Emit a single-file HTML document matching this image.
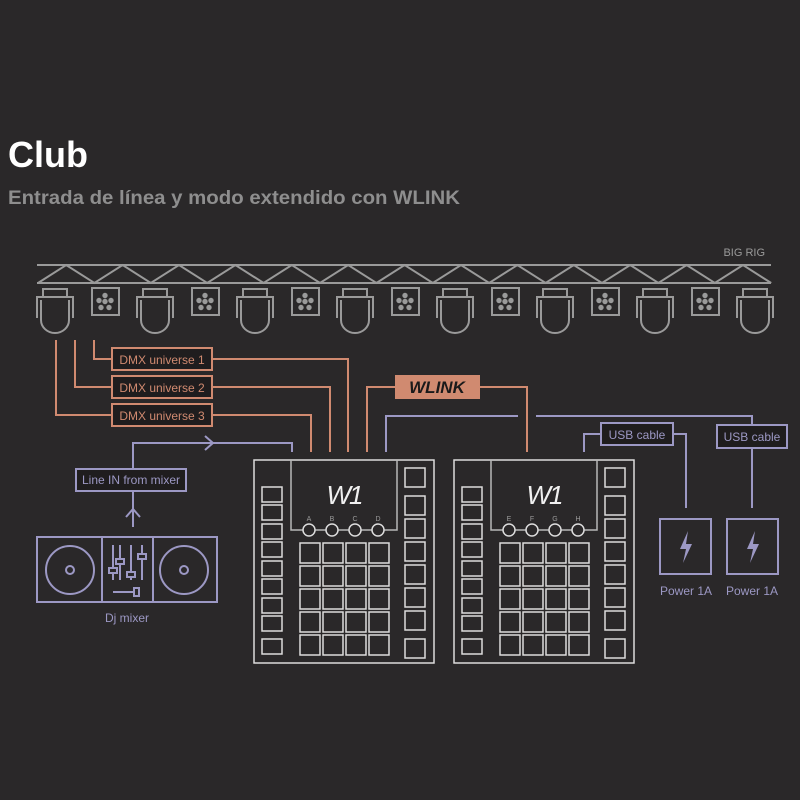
<!DOCTYPE html>
<html><head><meta charset="utf-8"><style>
html,body{margin:0;padding:0;background:#2a2829;width:800px;height:800px;overflow:hidden}
svg{display:block}
text{font-family:"Liberation Sans",sans-serif}
</style></head><body>
<svg id="s" width="800" height="800" viewBox="0 0 800 800" xmlns="http://www.w3.org/2000/svg">
<rect width="800" height="800" fill="#2a2829"/>
<text x="8" y="167" font-size="36" font-weight="bold" fill="#ffffff">Club</text>
<text x="8" y="204" font-size="19" font-weight="bold" fill="#8e8e8e" textLength="452" lengthAdjust="spacingAndGlyphs">Entrada de línea y modo extendido con WLINK</text>
<text x="765" y="256" font-size="11" fill="#9a9a9a" text-anchor="end">BIG RIG</text>
<g id="truss" stroke="#9a9a9a" stroke-width="2" fill="none"></g>
<g id="fix" stroke="#9a9a9a" stroke-width="2" fill="none"></g>
<!-- DMX orange -->
<g stroke="#d08a70" stroke-width="2" fill="none">
<polyline points="56,340 56,415 112,415"/>
<polyline points="75,340 75,387 112,387"/>
<polyline points="94,340 94,359 112,359"/>
<polyline points="212,359 348,359 348,452"/>
<polyline points="212,387 330,387 330,452"/>
<polyline points="212,415 311,415 311,452"/>
<polyline points="395,387 367,387 367,452"/>
<polyline points="480,387 527,387 527,452"/>
<rect x="112" y="348" width="100" height="22" fill="#1f1d1e"/>
<rect x="112" y="376" width="100" height="22" fill="#1f1d1e"/>
<rect x="112" y="404" width="100" height="22" fill="#1f1d1e"/>
</g>
<g font-size="12" fill="#d08a70" text-anchor="middle">
<text x="162" y="364">DMX universe 1</text>
<text x="162" y="392">DMX universe 2</text>
<text x="162" y="420">DMX universe 3</text>
</g>
<rect x="395" y="375" width="85" height="24" fill="#d08a70"/>
<text x="437" y="393" font-size="17" font-weight="bold" font-style="italic" fill="#1a1a1a" text-anchor="middle">WLINK</text>
<!-- blue -->
<g stroke="#9c98c4" stroke-width="2" fill="none">
<polyline points="133,470 133,443 292,443 292,452"/>
<polyline points="205,436 213,443 205,450"/>
<polyline points="126,517 133,509 140,517"/>
<line x1="133" y1="491" x2="133" y2="527"/>
<polyline points="386,452 386,416 518,416"/>
<polyline points="536,416 752,416 752,425"/>
<polyline points="584,452 584,434 601,434"/>
<polyline points="673,434 686,434 686,508"/>
<line x1="752" y1="448" x2="752" y2="508"/>
<rect x="601" y="423" width="72" height="22" fill="#1f1d1e"/>
<rect x="717" y="425" width="70" height="23" fill="#1f1d1e"/>
<rect x="76" y="469" width="110" height="22" fill="#1f1d1e"/>
<rect x="660" y="519" width="51" height="55"/>
<rect x="727" y="519" width="51" height="55"/>
<rect x="37" y="537" width="180" height="65"/>
<line x1="102" y1="537" x2="102" y2="602"/>
<line x1="153" y1="537" x2="153" y2="602"/>
<circle cx="70" cy="570" r="24"/><circle cx="70" cy="570" r="4"/>
<circle cx="184" cy="570" r="24"/><circle cx="184" cy="570" r="4"/>
<line x1="113" y1="545" x2="113" y2="580"/><line x1="120" y1="545" x2="120" y2="580"/>
<line x1="131" y1="545" x2="131" y2="580"/><line x1="142" y1="545" x2="142" y2="580"/>
<rect x="109" y="568" width="8" height="5" fill="#2a2829"/>
<rect x="116" y="559" width="8" height="5" fill="#2a2829"/>
<rect x="127" y="572" width="8" height="5" fill="#2a2829"/>
<rect x="138" y="554" width="8" height="5" fill="#2a2829"/>
<line x1="113" y1="592" x2="138" y2="592"/>
<rect x="134" y="588" width="5" height="8" fill="#2a2829"/>
</g>
<g fill="#9c98c4">
<path d="M688,531 L680,549 L686,549 L683,563 L692,544 L686,544 Z"/>
<path d="M755,531 L747,549 L753,549 L750,563 L759,544 L753,544 Z"/>
</g>
<g font-size="12" fill="#9c98c4" text-anchor="middle">
<text x="637" y="439">USB cable</text>
<text x="752" y="441">USB cable</text>
<text x="131" y="484">Line IN from mixer</text>
<text x="686" y="595">Power 1A</text>
<text x="752" y="595">Power 1A</text>
<text x="127" y="622">Dj mixer</text>
</g>
<g id="dev" stroke="#dcdcdc" stroke-width="1.5" fill="none"></g>
<g id="devt"></g>
</svg>
<script>
const NS="http://www.w3.org/2000/svg";
function el(p,t,a){const e=document.createElementNS(NS,t);for(const k in a)e.setAttribute(k,a[k]);document.getElementById(p).appendChild(e);return e;}
el("truss","line",{x1:37,y1:265,x2:771,y2:265});
el("truss","line",{x1:37,y1:283,x2:771,y2:283});
let pts=[];for(let k=0;k<=13;k++){let b=38+56.4*k;pts.push(b+",283");if(k<13)pts.push((b+28.2)+",265");}
el("truss","polyline",{points:pts.join(" ")});
for(let i=0;i<8;i++){const c=55+100*i;
el("fix","rect",{x:c-12,y:289,width:24,height:8});
el("fix","polyline",{points:`${c-18},318 ${c-18},297 ${c+18},297 ${c+18},318`});
el("fix","path",{d:`M${c-14},300 L${c-14},320 A14,13 0 0 0 ${c+14},320 L${c+14},300`});
}
for(let i=0;i<7;i++){const c=105+100*i;
el("fix","rect",{x:c-13,y:288,width:27,height:27});
[[0,-6],[-6,-1],[6,-1],[0,0],[-4,6],[4,6]].forEach(pp=>{
 el("fix","circle",{cx:c+pp[0],cy:301.5+pp[1],r:2.7,fill:"#9a9a9a",stroke:"none"});
});
}
function dev(x0,letters){
el("dev","rect",{x:x0,y:460,width:180,height:203});
el("dev","polyline",{points:`${x0+37},460 ${x0+37},530 ${x0+143},530 ${x0+143},460`,stroke:"#b8b8b8"});
[487,505,524,542,561,579,598,616].forEach(y=>el("dev","rect",{x:x0+8,y:y,width:20,height:15}));
el("dev","rect",{x:x0+8,y:639,width:20,height:15});
[468,496,519,542,565,588,611,639].forEach(y=>el("dev","rect",{x:x0+151,y:y,width:20,height:19}));
for(let r=0;r<5;r++)for(let c=0;c<4;c++)el("dev","rect",{x:x0+46+23*c,y:543+23*r,width:20,height:20});
for(let c=0;c<4;c++){el("dev","circle",{cx:x0+55+23*c,cy:530,r:6,fill:"#2a2829"});
 const t=el("devt","text",{x:x0+55+23*c,y:521,"font-size":7,fill:"#9a9a9a","text-anchor":"middle"});t.textContent=letters[c];}
const t=el("devt","text",{x:x0+90,y:504,"font-size":26,"font-style":"italic",fill:"#f0f0f0","text-anchor":"middle","letter-spacing":"-2"});t.textContent="W1";
}
dev(254,"ABCD");dev(454,"EFGH");
</script>
</body></html>
